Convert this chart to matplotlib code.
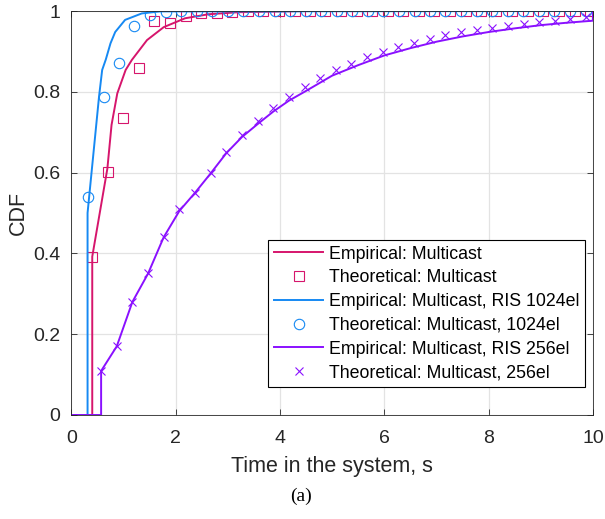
import numpy as np
import matplotlib
matplotlib.use("Agg")
import matplotlib.pyplot as plt

plt.rcParams['font.family'] = ['Liberation Sans', 'DejaVu Sans']

# empirical CDFs
t_emp_mc = [0, 0.40, 0.40, 0.69, 0.77, 0.88, 1.04, 1.16, 1.45, 1.77, 2.18, 2.63, 3.2, 4.5, 10]
cdf_emp_mc = [0, 0, 0.392, 0.61, 0.718, 0.796, 0.854, 0.879, 0.928, 0.960, 0.982, 0.992, 0.997, 1.0, 1.0]

t_emp_1024 = [0, 0.31, 0.31, 0.53, 0.59, 0.66, 0.75, 0.84, 1.03, 1.35, 1.7, 10]
cdf_emp_1024 = [0, 0, 0.50, 0.788, 0.854, 0.88, 0.92, 0.948, 0.978, 0.994, 0.999, 1.0]

t_emp_256 = [0, 0.57, 0.57, 0.87, 1.17, 1.47, 1.77, 2.07, 2.37, 2.67, 2.97, 3.27, 3.57, 3.87,
             4.17, 4.47, 5.0, 5.5, 6.0, 6.5, 7.0, 7.5, 8.0, 8.5, 9.0, 9.5, 10, 10]
cdf_emp_256 = [0, 0, 0.109, 0.17, 0.28, 0.35, 0.44, 0.505, 0.55, 0.598, 0.648, 0.688, 0.72, 0.751,
               0.778, 0.80, 0.84, 0.866, 0.89, 0.908, 0.924, 0.937, 0.948, 0.957, 0.965, 0.971, 0.976, 1.0]

# theoretical points
t_th_mc = [0.40, 0.70, 0.99, 1.29, 1.59, 1.89, 2.19, 2.49, 2.79, 3.08, 3.38, 3.68, 3.98, 4.28, 4.57,
           4.87, 5.17, 5.47, 5.77, 6.07, 6.36, 6.66, 6.96, 7.26, 7.56, 7.86, 8.15, 8.45, 8.75, 9.05,
           9.35, 9.65, 9.94]
cdf_th_mc = [0.392, 0.602, 0.734, 0.858, 0.976, 0.971, 0.988, 0.994, 0.995, 0.998, 0.999, 0.999, 1, 1, 1,
             1, 1, 1, 1, 1, 1, 1, 1, 1, 1, 1, 1, 1, 1, 1, 1, 1, 1]

t_th_1024 = [0.32, 0.62, 0.92, 1.21, 1.51, 1.81, 2.11, 2.41, 2.70, 3.00, 3.30, 3.60, 3.90, 4.19, 4.49,
             4.79, 5.09, 5.39, 5.68, 5.98, 6.28, 6.58, 6.88, 7.17, 7.47, 7.77, 8.07, 8.37, 8.66, 8.96,
             9.26, 9.56, 9.86]
cdf_th_1024 = [0.54, 0.788, 0.872, 0.964, 0.990, 0.997, 0.999, 1, 1, 1, 1, 1, 1, 1, 1,
               1, 1, 1, 1, 1, 1, 1, 1, 1, 1, 1, 1, 1, 1, 1, 1, 1, 1]

t_th_256 = [0.57, 0.87, 1.17, 1.47, 1.77, 2.07, 2.37, 2.67, 2.97, 3.27, 3.57, 3.87, 4.17, 4.47, 4.77,
            5.07, 5.37, 5.67, 5.97, 6.27, 6.57, 6.87, 7.17, 7.47, 7.77, 8.07, 8.37, 8.67, 8.97, 9.27,
            9.57, 9.87]
cdf_th_256 = [0.109, 0.17, 0.28, 0.352, 0.441, 0.51, 0.549, 0.599, 0.652, 0.693, 0.728, 0.759, 0.788,
              0.811, 0.833, 0.854, 0.870, 0.885, 0.899, 0.910, 0.921, 0.931, 0.941, 0.947, 0.953,
              0.959, 0.963, 0.968, 0.973, 0.976, 0.979, 0.984]

c_pink = '#d6156c'
c_blue = '#1689f3'
c_purp = '#8a10ff'

fig = plt.figure(figsize=(6.05, 5.19), dpi=100)
ax = fig.add_axes([0.118, 0.2004, 0.862, 0.7784])

ax.plot(t_emp_mc, cdf_emp_mc, color=c_pink, lw=1.4, label='Empirical: Multicast')
ax.plot(t_th_mc, cdf_th_mc, ls='none', marker='s', ms=6.5, mfc='none', mec=c_pink, mew=0.8,
        label='Theoretical: Multicast')
ax.plot(t_emp_1024, cdf_emp_1024, color=c_blue, lw=1.4, label='Empirical: Multicast, RIS 1024el')
ax.plot(t_th_1024, cdf_th_1024, ls='none', marker='o', ms=7.5, mfc='none', mec=c_blue, mew=0.8,
        label='Theoretical: Multicast, 1024el')
ax.plot(t_emp_256, cdf_emp_256, color=c_purp, lw=1.4, label='Empirical: Multicast, RIS 256el')
ax.plot(t_th_256, cdf_th_256, ls='none', marker='x', ms=5.5, mec=c_purp, mew=0.8,
        label='Theoretical: Multicast, 256el')

ax.set_xlim(0, 10)
ax.set_ylim(0, 1)
ax.set_xticks([0, 2, 4, 6, 8, 10])
ax.set_yticks([0, 0.2, 0.4, 0.6, 0.8, 1])
ax.set_yticklabels(['0', '0.2', '0.4', '0.6', '0.8', '1'])
ax.grid(True, color='#e3e3e3', lw=0.9)
ax.set_axisbelow(True)
ax.tick_params(direction='in', top=True, right=True, length=4, width=0.6,
               labelsize=14, colors='#262626')
ax.tick_params(axis='x', pad=11)
ax.tick_params(axis='y', pad=8)
for s in ax.spines.values():
    s.set_color('#262626')
    s.set_linewidth(0.6)

ax.set_xlabel('Time in the system, s', fontsize=15.5, color='#262626', labelpad=6)
ax.set_ylabel('CDF', fontsize=15.5, color='#262626', labelpad=3)

leg = ax.legend(loc='lower right', bbox_to_anchor=(0.984, 0.070), fontsize=12.8,
                frameon=True, fancybox=False, framealpha=1, edgecolor='#000000',
                handlelength=2.8, handletextpad=0.3, labelspacing=0.38, borderpad=0.3,
                borderaxespad=0)
leg.get_frame().set_linewidth(0.8)

fig.text(0.497, 0.043, '(a)', fontsize=14, family='Liberation Serif', ha='center', va='center')

fig.savefig('out.png', dpi=100)
